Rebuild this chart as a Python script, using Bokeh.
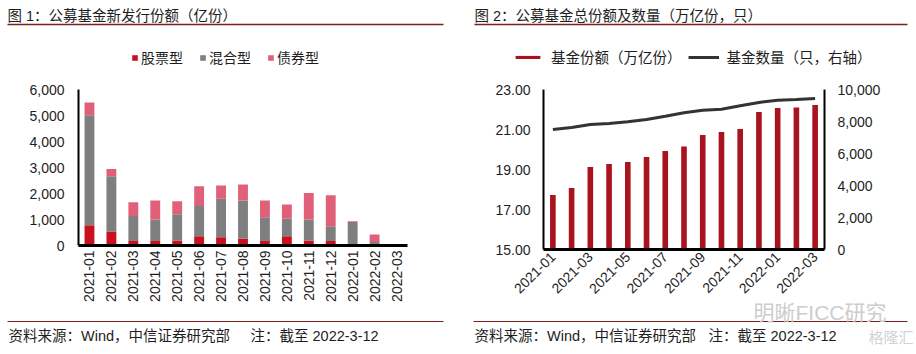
import math
from bokeh.plotting import figure
from bokeh.models import (Range1d, LinearAxis, Legend, LegendItem, Label,
                          NumeralTickFormatter, FixedTicker, ColumnDataSource)
from bokeh.layouts import row
from bokeh.embed import file_html
from bokeh.resources import INLINE

# ---------------- data ----------------
months = ["2021-01", "2021-02", "2021-03", "2021-04", "2021-05", "2021-06", "2021-07",
          "2021-08", "2021-09", "2021-10", "2021-11", "2021-12", "2022-01", "2022-02", "2022-03"]
# Figure 1: new issuance (亿份)
stock = [780, 540, 170, 170, 190, 360, 320, 260, 170, 360, 190, 170, 60, 40, 0]
mixed = [4230, 2120, 960, 830, 1010, 1160, 1480, 1475, 920, 670, 810, 575, 840, 90, 0]
bond = [490, 280, 530, 735, 500, 755, 510, 615, 645, 550, 1020, 1185, 30, 295, 0]
# Figure 2: total shares (万亿份) and number of funds (只)
share = [17.72, 18.08, 19.13, 19.27, 19.37, 19.62, 19.92, 20.15, 20.73, 20.87, 21.02,
         21.87, 22.07, 22.10, 22.23]
count = [7500, 7625, 7810, 7875, 7980, 8125, 8330, 8550, 8710, 8770, 8980, 9190, 9330,
         9375, 9440]

series1 = ["股票型", "混合型", "债券型"]
series2 = ["基金份额（万亿份）", "基金数量（只，右轴）"]
title1 = "图 1：公募基金新发行份额（亿份）"
title2 = "图 2：公募基金总份额及数量（万亿份，只）"
source_text = "资料来源：Wind，中信证券研究部"
note_text = "注：截至 2022-3-12"
watermark = "明晰FICC研究"
logo_text = "格隆汇"

# ---------------- styles / geometry ----------------
CJK = "Liberation Sans, Noto Sans CJK SC"
NUM = "Liberation Sans"
TXT = "#1e1e1e"
RULE = "#7b1e1e"
C_STOCK, C_MIXED, C_BOND = "#c8101e", "#7f7f7f", "#e0607a"
C_BAR2, C_LINE2 = "#a8131f", "#333333"
W, H = 458, 354
FS_T = "14.5px"


def make_panel(plot_l, plot_r, plot_t, plot_b, n, y0, y1):
    """Figure whose frame fills the whole panel; the plot area is [plot_l, plot_r] x
    [plot_t, plot_b] in panel pixels, holding n categories and the y span y0..y1."""
    ux = (plot_r - plot_l) / n
    xs = -0.5 - plot_l / ux
    xe = n - 0.5 + (W - plot_r) / ux
    uy = (y1 - y0) / (plot_b - plot_t)
    ys = y0 - (H - plot_b) * uy
    ye = y1 + plot_t * uy
    p = figure(width=W, height=H, x_range=Range1d(xs, xe), y_range=Range1d(ys, ye),
               title=None, output_backend="svg", toolbar_location=None,
               min_border=0, min_border_left=0, min_border_right=0, min_border_top=0,
               min_border_bottom=0, outline_line_color=None,
               background_fill_color="white", border_fill_color="white")
    p.grid.visible = False
    p.xaxis.fixed_location = y0
    p.yaxis.fixed_location = -0.5
    p.xaxis.bounds = (-0.5, n - 0.5)
    p.yaxis.bounds = (y0, y1)
    geo = (xs, (xe - xs) / W, ye, (ye - ys) / H)
    return p, geo


def px2d(geo, px, py):
    xs, kx, ye, ky = geo
    return xs + px * kx, ye - py * ky


def style_axis(ax, fs="14px"):
    ax.axis_line_color = "#000000"
    ax.axis_line_width = 2
    ax.major_tick_line_color = None
    ax.minor_tick_line_color = None
    ax.major_tick_in = 0
    ax.major_tick_out = 0
    ax.minor_tick_in = 0
    ax.minor_tick_out = 0
    ax.major_label_text_font = NUM
    ax.major_label_text_font_size = fs
    ax.major_label_text_color = TXT


def add_text(p, px, py, text, size=FS_T, color=TXT, font=CJK):
    p.add_layout(Label(x=px, y=H - py, x_units="screen", y_units="screen", text=text,
                       text_font=font, text_font_size=size, text_color=color,
                       text_baseline="middle", text_align="left"))


def add_rule(p, geo, px0, px1, py, thick=1.3):
    x0, y = px2d(geo, px0, py)
    x1, _ = px2d(geo, px1, py)
    p.segment(x0=[x0], y0=[y], x1=[x1], y1=[y], line_color=RULE, line_width=thick)


idx = list(range(len(months)))

# ---------------- figure 1 ----------------
p1, g1 = make_panel(78, 407, 89, 245, len(months), 0, 6000)
src1 = ColumnDataSource(dict(i=idx, stock=stock, mixed=mixed, bond=bond))
rs = p1.vbar_stack(["stock", "mixed", "bond"], x="i", width=0.45, source=src1,
                   fill_color=[C_STOCK, C_MIXED, C_BOND], line_color=None)
style_axis(p1.yaxis[0])
p1.yaxis[0].ticker = FixedTicker(ticks=[0, 1000, 2000, 3000, 4000, 5000, 6000])
p1.yaxis[0].formatter = NumeralTickFormatter(format="0,0")
p1.yaxis[0].major_label_standoff = 14
style_axis(p1.xaxis[0])
p1.xaxis[0].axis_line_width = 3
p1.xaxis[0].ticker = FixedTicker(ticks=idx)
p1.xaxis[0].major_label_overrides = {i: months[i] for i in idx}
p1.xaxis[0].major_label_orientation = math.pi / 2
p1.xaxis[0].major_label_standoff = 5

leg1 = Legend(items=[LegendItem(label=s, renderers=[r]) for s, r in zip(series1, rs)],
              orientation="horizontal", location=(131, H - 67),
              glyph_width=7, glyph_height=7, label_standoff=3, spacing=16,
              padding=0, margin=0, border_line_color=None, background_fill_alpha=0,
              label_text_font=CJK, label_text_font_size="14px", label_text_color=TXT)
p1.add_layout(leg1)

add_text(p1, 7, 15, title1)
add_rule(p1, g1, 7, 443, 24)
add_rule(p1, g1, 7, 443, 321, thick=1.0)
add_text(p1, 8, 335, source_text)
add_text(p1, 250, 335, note_text)

# ---------------- figure 2 ----------------
p2, g2 = make_panel(85, 366, 89, 249, len(months), 15, 23)
p2.extra_y_ranges = {"count": Range1d(0 - (H - 249) * 10000 / 160, 10000 + 89 * 10000 / 160)}
src2 = ColumnDataSource(dict(i=idx, share=share, count=count))
rb = p2.vbar(x="i", top="share", bottom=15, width=0.3, source=src2,
             fill_color=C_BAR2, line_color=None)
rl = p2.line(x="i", y="count", source=src2, y_range_name="count",
             line_color=C_LINE2, line_width=3)
style_axis(p2.yaxis[0])
p2.yaxis[0].ticker = FixedTicker(ticks=[15, 17, 19, 21, 23])
p2.yaxis[0].formatter = NumeralTickFormatter(format="0.00")
p2.yaxis[0].major_label_standoff = 13
ax_r = LinearAxis(y_range_name="count",
                  ticker=FixedTicker(ticks=[0, 2000, 4000, 6000, 8000, 10000]),
                  formatter=NumeralTickFormatter(format="0,0"),
                  fixed_location=len(months) - 0.5, bounds=(0, 10000))
style_axis(ax_r)
ax_r.major_label_standoff = 13
p2.add_layout(ax_r, "right")
style_axis(p2.xaxis[0])
p2.xaxis[0].axis_line_width = 3
p2.xaxis[0].ticker = FixedTicker(ticks=idx[::2])
p2.xaxis[0].major_label_overrides = {i: months[i] for i in idx[::2]}
p2.xaxis[0].major_label_orientation = math.pi / 4
p2.xaxis[0].major_label_standoff = 5

leg2 = Legend(items=[LegendItem(label=series2[0], renderers=[rb]),
                     LegendItem(label=series2[1], renderers=[rl])],
              orientation="horizontal", location=(512 - W, H - 67),
              glyph_width=31, glyph_height=4, label_standoff=8, spacing=6,
              padding=0, margin=0, border_line_color=None, background_fill_alpha=0,
              label_text_font=CJK, label_text_font_size=FS_T, label_text_color=TXT)
p2.add_layout(leg2)

add_text(p2, 474 - W, 15, title2)
add_rule(p2, g2, 474 - W, 907 - W, 24)
add_text(p2, 753 - W, 312, watermark, size="21px", color="#cdcdcd")
add_rule(p2, g2, 473 - W, 907 - W, 321, thick=1.0)
add_text(p2, 474 - W, 335, source_text)
add_text(p2, 708 - W, 335, note_text)
add_text(p2, 868 - W, 337, logo_text, size="15px", color="#d3d3d3")

layout = row(p1, p2)
open("out.html", "w").write(file_html(layout, INLINE))
